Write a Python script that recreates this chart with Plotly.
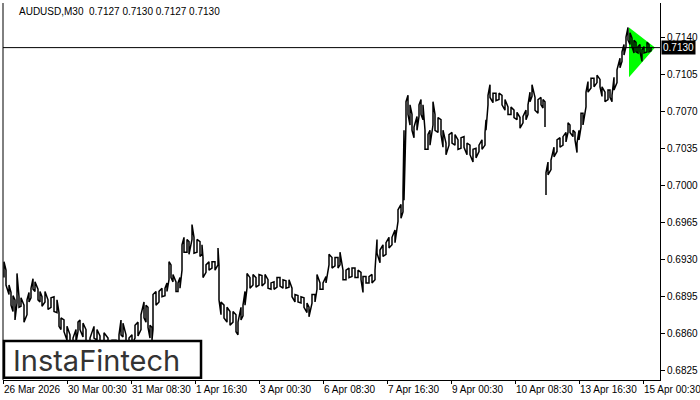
import plotly.graph_objects as go

# ---------------- data ----------------
symbol = "AUDUSD,M30"
ohlc_last = [0.7127, 0.7130, 0.7127, 0.7130]
current_price = 0.7130

bar = [4, 6, 9, 11, 13, 15, 17, 19, 21, 24, 27, 29, 31, 33, 35, 38, 40, 42, 45, 48,
       51, 54, 57, 59, 61, 64, 67, 70, 73, 76, 78, 80, 83, 86, 90, 94, 97, 100, 104, 108,
       112, 116, 119, 121, 123, 126, 129, 132, 135, 138, 141, 144, 146, 148, 150, 152, 153, 156, 159, 162,
       165, 167, 169, 171, 173, 176, 178, 180, 182, 184, 187, 189, 192, 194, 197, 200, 202, 203, 206, 209,
       212, 215, 218, 219, 221, 224, 227, 230, 233, 236, 238, 241, 243, 245, 247, 250, 253, 256, 259, 262,
       265, 268, 271, 274, 277, 280, 283, 286, 289, 292, 295, 298, 301, 304, 307, 309, 312, 315, 317, 320,
       323, 326, 329, 332, 335, 338, 340, 343, 346, 349, 352, 355, 358, 361, 363, 366, 369, 372, 375, 377,
       380, 383, 386, 389, 392, 395, 398, 401, 403, 404, 406, 408, 410, 412, 414, 417, 419, 421, 423, 425,
       428, 430, 433, 435, 438, 441, 443, 446, 449, 452, 455, 458, 461, 464, 467, 470, 473, 476, 479, 482,
       485, 486, 488, 490, 493, 496, 499, 502, 505, 508, 511, 514, 517, 520, 523, 526, 528, 530, 532, 535,
       538, 541, 543, 545, 546, 548, 551, 554, 557, 560, 563, 566, 568, 570, 573, 575, 577, 579, 581, 583,
       586, 588, 591, 594, 597, 600, 602, 605, 608, 610, 612, 614, 617, 620, 622, 624, 626, 628, 630, 632,
       634, 636, 638, 640, 642, 644, 647, 649, 651]

high = [0.6928, 0.6920, 0.6906, 0.6899, 0.6896, 0.6892, 0.6917, 0.6895, 0.6894, 0.6887,
        0.6892, 0.6899, 0.6903, 0.6912, 0.6909, 0.6902, 0.6900, 0.6895, 0.6900, 0.6892,
        0.6894, 0.6895, 0.6892, 0.6880, 0.6875, 0.6873, 0.6867, 0.6859, 0.6856, 0.6864,
        0.6871, 0.6873, 0.6870, 0.6864, 0.6856, 0.6867, 0.6864, 0.6858, 0.6861, 0.6856,
        0.6854, 0.6854, 0.6859, 0.6873, 0.6870, 0.6859, 0.6856, 0.6859, 0.6868, 0.6871,
        0.6878, 0.6890, 0.6887, 0.6885, 0.6868, 0.6866, 0.6897, 0.6900, 0.6900, 0.6903,
        0.6903, 0.6908, 0.6928, 0.6925, 0.6916, 0.6909, 0.6908, 0.6913, 0.6944, 0.6951,
        0.6949, 0.6947, 0.6963, 0.6951, 0.6949, 0.6947, 0.6944, 0.6932, 0.6925, 0.6928,
        0.6928, 0.6928, 0.6941, 0.6925, 0.6890, 0.6887, 0.6885, 0.6881, 0.6881, 0.6878,
        0.6871, 0.6885, 0.6887, 0.6900, 0.6917, 0.6913, 0.6916, 0.6913, 0.6916, 0.6915,
        0.6916, 0.6911, 0.6908, 0.6909, 0.6913, 0.6913, 0.6911, 0.6910, 0.6911, 0.6903,
        0.6897, 0.6896, 0.6895, 0.6894, 0.6889, 0.6885, 0.6897, 0.6897, 0.6916, 0.6908,
        0.6908, 0.6914, 0.6935, 0.6932, 0.6932, 0.6932, 0.6937, 0.6920, 0.6920, 0.6922,
        0.6922, 0.6922, 0.6920, 0.6918, 0.6914, 0.6914, 0.6914, 0.6916, 0.6920, 0.6949,
        0.6939, 0.6944, 0.6946, 0.6951, 0.6951, 0.6958, 0.6977, 0.6982, 0.6994, 0.7052,
        0.7079, 0.7085, 0.7076, 0.7067, 0.7055, 0.7065, 0.7076, 0.7081, 0.7076, 0.7052,
        0.7048, 0.7052, 0.7079, 0.7067, 0.7064, 0.7062, 0.7052, 0.7040, 0.7048, 0.7050,
        0.7048, 0.7043, 0.7045, 0.7046, 0.7040, 0.7038, 0.7034, 0.7035, 0.7038, 0.7043,
        0.7050, 0.7062, 0.7085, 0.7095, 0.7087, 0.7087, 0.7087, 0.7085, 0.7081, 0.7074,
        0.7074, 0.7071, 0.7069, 0.7064, 0.7065, 0.7071, 0.7076, 0.7088, 0.7095, 0.7083,
        0.7081, 0.7083, 0.7081, 0.7079, 0.7012, 0.7022, 0.7024, 0.7036, 0.7043, 0.7045,
        0.7046, 0.7050, 0.7059, 0.7057, 0.7052, 0.7050, 0.7040, 0.7052, 0.7068, 0.7068,
        0.7088, 0.7098, 0.7101, 0.7101, 0.7104, 0.7100, 0.7093, 0.7088, 0.7090, 0.7090,
        0.7085, 0.7102, 0.7109, 0.7120, 0.7126, 0.7133, 0.7140, 0.7149, 0.7144, 0.7139,
        0.7137, 0.7135, 0.7131, 0.7133, 0.7128, 0.7131, 0.7135, 0.7133, 0.7130]

low = [0.6913, 0.6906, 0.6897, 0.6887, 0.6881, 0.6873, 0.6889, 0.6885, 0.6886, 0.6871,
       0.6878, 0.6890, 0.6894, 0.6902, 0.6900, 0.6892, 0.6890, 0.6886, 0.6890, 0.6883,
       0.6885, 0.6881, 0.6880, 0.6867, 0.6864, 0.6862, 0.6854, 0.6850, 0.6847, 0.6852,
       0.6862, 0.6864, 0.6857, 0.6852, 0.6845, 0.6856, 0.6854, 0.6847, 0.6852, 0.6845,
       0.6843, 0.6845, 0.6850, 0.6859, 0.6857, 0.6847, 0.6845, 0.6850, 0.6856, 0.6858,
       0.6864, 0.6875, 0.6871, 0.6866, 0.6856, 0.6854, 0.6864, 0.6887, 0.6890, 0.6895,
       0.6896, 0.6900, 0.6911, 0.6913, 0.6909, 0.6900, 0.6900, 0.6903, 0.6920, 0.6937,
       0.6937, 0.6935, 0.6949, 0.6936, 0.6937, 0.6933, 0.6935, 0.6913, 0.6918, 0.6920,
       0.6922, 0.6920, 0.6925, 0.6892, 0.6878, 0.6875, 0.6871, 0.6868, 0.6871, 0.6862,
       0.6859, 0.6873, 0.6877, 0.6887, 0.6903, 0.6903, 0.6906, 0.6904, 0.6906, 0.6905,
       0.6908, 0.6903, 0.6902, 0.6902, 0.6904, 0.6905, 0.6903, 0.6903, 0.6904, 0.6895,
       0.6890, 0.6890, 0.6889, 0.6885, 0.6880, 0.6876, 0.6889, 0.6890, 0.6902, 0.6902,
       0.6902, 0.6908, 0.6925, 0.6922, 0.6924, 0.6922, 0.6925, 0.6911, 0.6911, 0.6913,
       0.6914, 0.6913, 0.6913, 0.6911, 0.6899, 0.6908, 0.6908, 0.6908, 0.6911, 0.6936,
       0.6927, 0.6933, 0.6935, 0.6941, 0.6944, 0.6946, 0.6966, 0.6969, 0.6975, 0.6986,
       0.7059, 0.7067, 0.7057, 0.7052, 0.7045, 0.7052, 0.7065, 0.7067, 0.7062, 0.7034,
       0.7034, 0.7038, 0.7057, 0.7052, 0.7050, 0.7048, 0.7036, 0.7029, 0.7038, 0.7040,
       0.7038, 0.7034, 0.7035, 0.7036, 0.7029, 0.7029, 0.7022, 0.7026, 0.7032, 0.7034,
       0.7038, 0.7052, 0.7076, 0.7083, 0.7078, 0.7080, 0.7081, 0.7076, 0.7071, 0.7067,
       0.7067, 0.7064, 0.7062, 0.7054, 0.7059, 0.7062, 0.7067, 0.7079, 0.7084, 0.7071,
       0.7068, 0.7076, 0.7073, 0.7055, 0.6991, 0.7010, 0.7015, 0.7027, 0.7032, 0.7036,
       0.7038, 0.7041, 0.7050, 0.7050, 0.7046, 0.7043, 0.7031, 0.7043, 0.7055, 0.7057,
       0.7074, 0.7088, 0.7092, 0.7093, 0.7097, 0.7093, 0.7084, 0.7079, 0.7081, 0.7083,
       0.7079, 0.7090, 0.7097, 0.7111, 0.7117, 0.7123, 0.7131, 0.7137, 0.7133, 0.7131,
       0.7125, 0.7126, 0.7125, 0.7126, 0.7117, 0.7125, 0.7126, 0.7126, 0.7127]

session_break_after = 545   # weekend gap between 10 Apr and 13 Apr

tick_bars = [3, 67, 131, 195, 259, 323, 387, 451, 515, 579, 643]
tick_labels = ["26 Mar 2026", "30 Mar 00:30", "31 Mar 08:30", "1 Apr 16:30",
               "3 Apr 00:30", "6 Apr 08:30", "7 Apr 16:30", "9 Apr 00:30",
               "10 Apr 08:30", "13 Apr 16:30", "15 Apr 00:30"]
price_ticks = [0.6825, 0.6860, 0.6895, 0.6930, 0.6965, 0.7000,
               0.7035, 0.7070, 0.7105, 0.7140]

pattern_bars = [629, 629, 655]
pattern_prices = [0.7149, 0.7102, 0.7130]

brand = "InstaFintech"

# ---------------- figure ----------------
xs, ys = [], []
for k, (b, h, l) in enumerate(zip(bar, high, low)):
    if k > 0 and bar[k - 1] <= session_break_after < b:
        xs.append(None)
        ys.append(None)
    xs += [b, b]
    ys += ([l, h] if k % 2 == 0 else [h, l])

fig = go.Figure()

fig.add_trace(go.Scatter(
    x=pattern_bars + [pattern_bars[0]], y=pattern_prices + [pattern_prices[0]],
    mode="lines", fill="toself", fillcolor="#00FF00",
    line=dict(width=0, color="#00FF00"), hoverinfo="skip", showlegend=False))

fig.add_trace(go.Scatter(
    x=xs, y=ys, mode="lines", line=dict(color="black", width=1.5),
    connectgaps=False, hoverinfo="skip", showlegend=False))

font = dict(family="Liberation Sans, Arial, sans-serif", size=10, color="black")

fig.update_layout(
    width=700, height=400,
    margin=dict(l=3, r=40, t=3, b=20, autoexpand=False),
    paper_bgcolor="white", plot_bgcolor="white",
    showlegend=False,
    font=font,
    xaxis=dict(
        range=[3, 660], showgrid=False, zeroline=False, automargin=False,
        showline=True, linecolor="black", linewidth=1,
        tickmode="array", tickvals=tick_bars, ticktext=tick_labels,
        ticks="outside", ticklen=3, tickcolor="black", tickangle=0,
        ticklabelposition="outside right", ticklabeloverflow="allow",
        tickfont=font,
    ),
    yaxis=dict(
        range=[0.68164, 0.71721], side="right", showgrid=False, zeroline=False,
        automargin=False,
        showline=True, linecolor="black", linewidth=1,
        tickmode="array", tickvals=price_ticks,
        ticktext=[f"{v:.4f}" for v in price_ticks],
        ticks="outside", ticklen=4, tickcolor="black", tickfont=font,
    ),
)

# left frame line
fig.add_shape(type="line", xref="paper", yref="paper", x0=0, x1=0, y0=0, y1=1,
              line=dict(color="black", width=1))

# current price line and label
fig.add_shape(type="line", xref="paper", yref="y", x0=0, x1=1,
              y0=current_price, y1=current_price, line=dict(color="black", width=1))
fig.add_annotation(xref="paper", yref="y", x=1.0, y=current_price, xanchor="left",
                   yanchor="middle", xshift=1, text=f"{current_price:.4f}", showarrow=False,
                   bgcolor="black", font=dict(family=font["family"], size=10, color="white"),
                   borderpad=1)

# title
fig.add_annotation(xref="paper", yref="paper", x=0, y=1, xanchor="left", yanchor="top",
                   xshift=14, yshift=-1, showarrow=False,
                   text=symbol + "\u00a0\u00a0" + " ".join(f"{v:.4f}" for v in ohlc_last),
                   font=font)

# logo box
fig.add_shape(type="rect", xref="paper", yref="paper", x0=0.0015, x1=0.3014,
              y0=0.006, y1=0.1034, fillcolor="white",
              line=dict(color="black", width=2.5), layer="above")
fig.add_annotation(xref="paper", yref="paper", x=0.1416, y=0.053, text=brand,
                   showarrow=False, xanchor="center", yanchor="middle",
                   font=dict(family="Inter, Lato, sans-serif", size=29, color="#333333"))

fig.write_html("out.html", config={"displayModeBar": False},
               post_script="document.body.style.margin='0';document.body.style.overflow='hidden';")
